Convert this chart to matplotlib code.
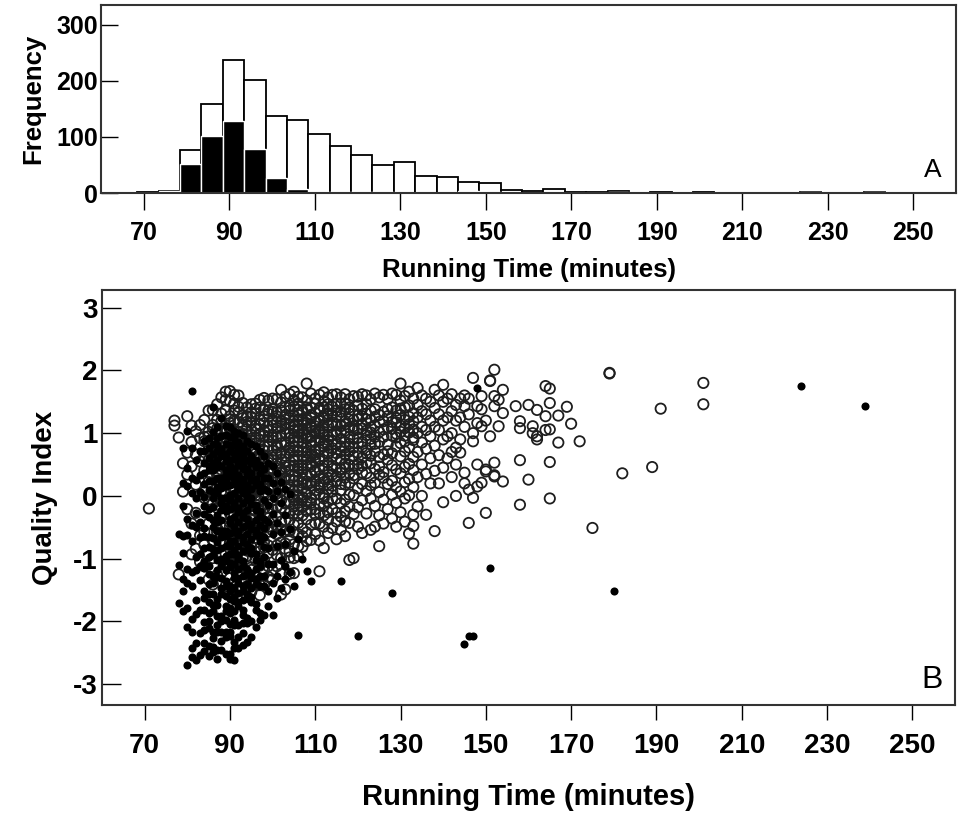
import numpy as np
import matplotlib
matplotlib.use("Agg")
import matplotlib.pyplot as plt

plt.rcParams['font.family'] = ['Liberation Sans', 'DejaVu Sans']
plt.rcParams['font.weight'] = 'bold'
plt.rcParams['axes.unicode_minus'] = False

# ---- panel A: histogram of running time, 5-minute bins (bin centres) ----
bin_centers = [71, 76, 81, 86, 91, 96, 101, 106, 111, 116, 121, 126, 131, 136, 141,
               146, 151, 156, 161, 166, 171, 176, 181, 186, 191, 196, 201, 226, 241]
all_counts = [1, 4, 76, 159, 237, 202, 138, 130, 106, 84, 67, 50, 55, 30, 28,
              19, 18, 6, 4, 8, 2, 1, 3, 0, 1, 0, 2, 1, 1]
sub_counts = [0, 3, 52, 102, 129, 79, 26, 8, 1, 1, 1, 1, 0, 0, 0,
              4, 1, 0, 0, 0, 0, 0, 1, 0, 0, 0, 0, 1, 1]

# ---- panel B: quality index vs running time ----
# open circles: one running time per entry, list of quality values at that time
open_rt = [71, 77, 78, 79, 80, 81, 82, 83, 84, 85, 86, 87, 88, 89, 90, 91, 92, 93,
           94, 95, 96, 97, 98, 99, 100, 101, 102, 103, 104, 105, 106, 107, 108, 109,
           110, 111, 112, 113, 114, 115, 116, 117, 118, 119, 120, 121, 122, 123, 124,
           125, 126, 127, 128, 129, 130, 131, 132, 133, 134, 135, 136, 137, 138, 139,
           140, 141, 142, 143, 144, 145, 146, 147, 148, 149, 150, 151, 152, 153, 154,
           157, 158, 160, 161, 162, 164, 165, 167, 169, 170, 172, 175, 179, 182, 189,
           191, 201]
open_q = [
    [-0.2],
    [1.12, 1.2],
    [0.93, -1.25],
    [0.52, 0.07],
    [1.27, 0.69, 0.34, -0.21],
    [1.12, 0.86, 0.47, -0.44, -0.93],
    [1.03, 0.66, 0.18, -0.27, -0.84],
    [0.92, 1.13, 0.55, 0.02, -0.63, -1.05],
    [1.21, 0.94, 0.87, 0.41, 0.06, -0.03, -0.57, -0.78, -1.12, 0.63],
    [1.36, 1.02, 0.81, 0.29, 0.22, -0.06, -0.44, -0.91, -1.33, 0.95, 0.57],
    [1.08, 1.37, 1.13, 0.62, 0.58, 0.04, -0.12, -0.27, -0.71, -0.99, -1.41, 0.43, 0.83],
    [1.46, 1.21, 0.97, 0.91, 0.33, 0.14, -0.19, -0.52, -0.58, -1.26, 0.39, 0.67, 1.07],
    [1.57, 1.31, 1.19, 0.88, 0.61, 0.42, 0.08, -0.09, -0.33, -0.62, -0.93, -1.22, 0.51,
     1.01, 0.71],
    [1.53, 1.66, 1.36, 1.08, 1.03, 0.79, 0.54, 0.47, 0.18, 0.03, -0.14, -0.44, -0.49,
     -0.93, -1.06, -1.44, 0.67, 0.31, 0.92],
    [1.67, 1.51, 1.27, 1.22, 1.06, 0.96, 0.77, 0.69, 0.56, 0.34, 0.29, 0.12, -0.04,
     -0.11, -0.28, -0.42, -0.68, -0.74, -0.97, -1.08, -1.31, -1.52, 1.16, 0.47, 0.21,
     -0.49, 0.87],
    [1.61, 1.47, 1.21, 1.18, 0.98, 0.83, 0.61, 0.57, 0.44, 0.23, 0.14, -0.02, -0.19,
     -0.31, -0.57, -0.68, -0.94, -1.07, -1.38, 0.79, 0.36, 0.07, 1.36],
    [1.6, 1.42, 1.33, 1.02, 0.94, 0.77, 0.64, 0.46, 0.39, 0.27, -0.03, -0.14, -0.22,
     -0.49, -0.63, -0.88, -1.04, -1.21, -1.47, 1.17, 0.52, 0.88],
    [1.48, 1.29, 1.24, 0.99, 0.91, 0.72, 0.51, 0.43, 0.22, 0.12, 0.03, -0.27, -0.33,
     -0.58, -0.74, -0.99, -1.14, -1.36, 0.83, 0.38, -0.42, 1.12],
    [1.41, 1.27, 1.18, 0.97, 0.86, 0.82, 0.56, 0.44, 0.31, 0.19, 0.16, -0.09, -0.18,
     -0.39, -0.51, -0.69, -0.87, -0.96, -1.23, -1.44, -1.61, 0.67, 0.24, 1.06],
    [1.46, 1.33, 1.26, 1.04, 0.97, 0.76, 0.71, 0.53, 0.46, 0.26, 0.11, 0.04, -0.16,
     -0.22, -0.37, -0.52, -0.58, -0.81, -0.89, -1.14, -1.18, -1.37, -1.53, 0.88, 0.37,
     -0.01, 1.16],
    [1.47, 1.39, 1.31, 1.12, 1.07, 0.84, 0.74, 0.67, 0.49, 0.41, 0.26, 0.09, 0.01,
     -0.14, -0.24, -0.44, -0.55, -0.74, -0.83, -1.02, -1.28, -1.36, 0.93, 0.59, -0.06],
    [1.53, 1.41, 1.21, 1.14, 0.99, 0.89, 0.66, 0.59, 0.43, 0.37, 0.18, 0.11, -0.09,
     -0.24, -0.31, -0.54, -0.63, -0.84, -0.97, -1.11, -1.42, -1.58, 0.81, 0.29],
    [1.56, 1.37, 1.16, 1.04, 0.96, 0.79, 0.72, 0.51, 0.44, 0.26, 0.19, 0.06, -0.14,
     -0.21, -0.42, -0.51, -0.73, -0.82, -1.02, -1.18, -1.42, 1.27, 0.61, 0.12],
    [1.52, 1.36, 1.31, 1.11, 1.04, 0.87, 0.79, 0.59, 0.53, 0.36, 0.28, 0.11, 0.02,
     -0.19, -0.28, -0.49, -0.57, -0.79, -0.91, -1.12, -1.29, 0.94, 0.41],
    [1.55, 1.38, 1.34, 1.12, 0.97, 0.93, 0.88, 0.61, 0.57, 0.44, 0.16, 0.12, 0.09,
     -0.07, -0.38, -0.41, -0.55, -0.86, -1.19, -1.33, 1.21, 0.72, 0.28, -0.22],
    [1.54, 1.33, 1.27, 1.08, 0.94, 0.81, 0.77, 0.52, 0.47, 0.31, 0.22, 0.04, -0.03,
     -0.16, -0.32, -0.47, -0.61, -0.79, -0.94, -1.12, 1.17, 0.66],
    [1.69, 1.49, 1.36, 1.19, 1.11, 0.96, 0.84, 0.69, 0.58, 0.42, 0.36, 0.17, 0.08,
     -0.07, -0.19, -0.41, -0.53, -0.74, -0.99, -1.24, -1.57, 0.27],
    [1.58, 1.41, 1.29, 1.16, 1.07, 0.86, 0.81, 0.64, 0.53, 0.39, 0.29, 0.14, 0.03,
     -0.12, -0.26, -0.39, -0.57, -0.76, -0.89, -1.49, 0.99, 0.46],
    [1.62, 1.44, 1.36, 1.24, 1.14, 0.99, 0.92, 0.73, 0.68, 0.49, 0.41, 0.26, 0.17,
     0.02, -0.09, -0.27, -0.38, -0.56, -0.69, -0.88, -0.98, -1.24, 0.77, 0.14],
    [1.66, 1.53, 1.42, 1.28, 1.19, 1.04, 0.93, 0.79, 0.71, 0.57, 0.48, 0.32, 0.24,
     0.08, -0.01, -0.17, -0.28, -0.46, -0.58, -0.77, -0.99, -1.23, 1.11, 0.62, -0.06, 0.86],
    [1.58, 1.47, 1.37, 1.21, 1.12, 0.94, 0.87, 0.73, 0.64, 0.48, 0.39, 0.24, 0.16,
     0.01, -0.11, -0.31, -0.43, -0.61, -0.8, -0.96, 1.03, 0.44, -0.22, 1.29],
    [1.57, 1.36, 1.33, 1.04, 0.99, 0.93, 0.71, 0.49, 0.44, 0.38, 0.12, -0.02, -0.06,
     -0.31, -0.52, -0.64, -0.81, 1.22, 0.63, 0.21, 0.84, -0.18, 1.13, 0.27],
    [1.79, 1.52, 1.41, 1.38, 1.07, 0.96, 0.91, 0.62, 0.58, 0.49, 0.23, 0.18, -0.08,
     -0.13, -0.37, -0.58, -0.72, 1.21, 0.77, 0.33, -0.24, 1.16, 0.04, 0.69],
    [1.63, 1.41, 1.29, 1.24, 0.94, 0.87, 0.81, 0.52, 0.47, 0.21, 0.16, -0.03, -0.22,
     -0.46, -0.7, 1.09, 0.64, 0.34, 1.12, -0.11, 0.71],
    [1.55, 1.47, 1.18, 1.11, 0.99, 0.73, 0.66, 0.41, 0.38, 0.09, 0.02, -0.21, -0.29,
     -0.61, 1.32, 0.86, 0.54, 0.24, -0.43, 1.04, 0.61],
    [1.61, 1.39, 1.36, 1.07, 0.92, 0.88, 0.59, 0.56, 0.31, 0.19, 0.13, -0.13, -0.27,
     -0.71, -1.2, 1.19, 0.74, 0.42, -0.44, 1.01, 0.03],
    [1.65, 1.51, 1.28, 1.24, 1.02, 0.84, 0.79, 0.48, 0.43, 0.22, 0.01, -0.04, -0.31,
     -0.49, -0.83, 1.41, 0.63, 0.28, 1.12, -0.16, 0.97],
    [1.57, 1.38, 1.31, 1.13, 0.89, 0.71, 0.67, 0.39, 0.29, 0.11, -0.09, -0.26, -0.59,
     1.21, 0.53, 0.94, 0.18, -0.38, 1.46, 0.81],
    [1.61, 1.42, 1.17, 1.12, 0.87, 0.76, 0.48, 0.43, 0.16, 0.07, -0.21, -0.51, 0.97,
     1.29, 0.62, -0.04, 0.34],
    [1.62, 1.47, 1.26, 1.03, 0.98, 0.68, 0.59, 0.31, 0.24, -0.04, -0.27, -0.69, 1.14,
     0.82, 0.44, -0.41, 1.36],
    [1.57, 1.34, 1.28, 1.01, 0.79, 0.71, 0.42, 0.37, 0.09, -0.12, -0.33, -0.54, 1.11,
     0.91, 0.58, 0.19, 1.46],
    [1.62, 1.38, 1.19, 1.14, 0.86, 0.77, 0.51, 0.46, 0.18, -0.06, -0.24, -0.64, 1.04,
     0.66, 0.29, -0.41, 1.47],
    [1.54, 1.31, 1.22, 0.94, 0.83, 0.58, 0.49, 0.21, 0.02, -0.17, -0.43, -1.02, 1.09,
     0.71, 0.36, 1.41],
    [1.59, 1.36, 1.11, 1.04, 0.77, 0.64, 0.33, 0.28, 0.01, -0.29, -0.99, 1.21, 0.91, 0.48],
    [1.58, 1.28, 1.22, 0.93, 0.84, 0.51, 0.43, 0.12, -0.18, -0.49, 1.06, 0.69, 1.44],
    [1.62, 1.39, 1.14, 1.07, 0.78, 0.61, 0.37, 0.19, -0.07, -0.59, 1.27, 0.86, 0.48],
    [1.6, 1.31, 1.22, 0.97, 0.73, 0.68, 0.36, 0.08, -0.28, 1.46, 1.04, 0.53],
    [1.54, 1.36, 1.09, 0.91, 0.82, 0.52, 0.29, -0.04, -0.54, 1.21, 0.64, 0.17, 1.01],
    [1.63, 1.38, 1.12, 0.94, 0.71, 0.43, 0.21, -0.16, -0.49, 1.26, 0.83],
    [1.57, 1.29, 1.18, 0.86, 0.62, 0.34, 0.06, -0.31, -0.8, 1.02, 0.47],
    [1.61, 1.34, 1.06, 0.94, 0.66, 0.38, 0.29, -0.06, -0.44, 1.19],
    [1.54, 1.27, 1.09, 0.82, 0.58, 0.19, -0.21, 1.38, 0.71],
    [1.63, 1.41, 1.18, 0.96, 0.68, 0.49, 0.24, -0.36, 1.07, 0.02],
    [1.61, 1.36, 1.17, 0.93, 0.79, 0.42, 0.14, -0.11, -0.49, 0.99, 1.24],
    [1.79, 1.52, 1.29, 1.12, 0.84, 0.63, 0.36, 0.07, -0.26, 1.02, 1.39],
    [1.59, 1.41, 1.21, 0.96, 0.71, 0.46, 0.22, -0.04, -0.41, 1.08, 0.87],
    [1.66, 1.44, 1.26, 1.01, 0.77, 0.51, 0.27, 0.01, -0.6, 1.14],
    [1.55, 1.32, 1.19, 0.89, 0.62, 0.41, -0.3, -0.48, -0.76, 1.06, 0.14, 0.93],
    [1.72, 1.45, 1.25, 1.0, 0.7, 0.3, -0.17],
    [1.6, 1.35, 1.1, 0.85, 0.5, 0.0],
    [1.55, 1.3, 1.05, 0.75, 0.35, -0.3],
    [1.5, 1.2, 0.95, 0.6, 0.2],
    [1.69, 1.4, 1.1, 0.8, -0.56, 0.4],
    [1.6, 1.3, 1.05, 0.65, 0.2],
    [1.77, 1.5, 1.2, 0.9, 0.45, -0.1],
    [1.55, 1.25, 0.95, 0.6],
    [1.62, 1.35, 1.0, 0.7, 0.3],
    [1.45, 1.2, 0.77, 0.5, 0.0],
    [1.55, 1.25, 0.9, 0.69],
    [1.43, 1.1, 0.37, 0.2, 1.6],
    [1.3, 0.1, -0.43, 1.55],
    [1.88, 1.0, 0.87, -0.03],
    [1.16, 1.43, 0.15, 0.5],
    [1.59, 1.38, 1.11, 0.21],
    [-0.27, 0.42, 1.2, 0.39],
    [1.84, 1.83, 0.95],
    [2.01, 1.59, 1.43, 0.53, 0.33, 0.31],
    [1.53, 1.11],
    [1.69, 1.32, 0.23],
    [1.43],
    [1.19, 1.08, 0.57, -0.14],
    [1.45, 0.26],
    [1.11, 1.0],
    [1.37, 0.95, 0.9],
    [1.75, 1.27, 1.05],
    [1.71, 1.48, 0.54, -0.04, 1.06],
    [1.28, 0.85],
    [1.42],
    [1.15],
    [0.87],
    [-0.51],
    [1.95, 1.96],
    [0.36],
    [0.46],
    [1.39],
    [1.8, 1.46],
]

# filled dots
filled_rt = [78, 79, 80, 81, 82, 83, 84, 85, 86, 87, 88, 89, 90, 91, 92, 93, 94, 95,
             96, 97, 98, 99, 100, 101, 102, 103, 104, 105, 106, 107, 108, 109, 116,
             120, 128, 145, 146, 147, 148, 151, 180, 224, 239]
filled_q = [
    [-0.6, -1.1, -1.7],
    [0.77, 0.21, -0.16, -0.64, -0.91, -1.33, -1.52, -1.84],
    [1.03, 0.44, 0.16, -0.36, -0.62, -1.17, -1.38, -1.79, -2.08, -2.69],
    [1.67, 0.76, 0.29, 0.04, -0.47, -0.72, -1.21, -1.43, -1.96, -2.17, -2.43, -2.56],
    [0.57, 0.26, -0.27, -0.49, -0.97, -1.18, -1.66, -1.88, -2.34, -2.62, -0.03],
    [0.71, 0.33, 0.06, -0.41, -0.66, -1.12, -1.34, -1.81, -2.18, -2.53, -0.93],
    [0.88, 0.52, 0.37, -0.02, -0.16, -0.51, -0.64, -1.03, -1.14, -1.52, -1.63, -2.01,
     -2.13, -2.47, -0.29, -0.83, -1.82, -2.34, 0.72, 0.19],
    [0.76, 0.61, 0.24, 0.09, -0.21, -0.33, -0.66, -0.81, -1.12, -1.24, -1.57, -1.69,
     -1.99, -2.11, -2.39, -2.55, 0.41, -0.97, -1.41, -1.87, 0.92, 0.48],
    [1.42, 0.83, 0.53, 0.41, 0.06, -0.04, -0.38, -0.49, -0.84, -0.94, -1.28, -1.39,
     -1.74, -1.83, -2.16, -2.27, -2.41, -0.17, -0.67, -1.57, -2.49, 1.02, 0.67, 0.24],
    [0.93, 0.58, 0.46, 0.14, 0.04, -0.31, -0.41, -0.74, -0.86, -1.18, -1.29, -1.64,
     -1.74, -2.06, -2.16, -2.46, -2.6, 0.71, -0.56, -1.02, -1.92, 1.09, 0.81, 0.29],
    [1.24, 0.74, 0.63, 0.29, 0.21, -0.12, -0.22, -0.56, -0.66, -1.01, -1.12, -1.46,
     -1.56, -1.91, -1.99, -2.31, -2.45, -0.03, -0.39, -0.83, -1.31, -2.16, 0.96, 0.47,
     0.12],
    [0.97, 0.67, 0.56, 0.24, 0.16, -0.16, -0.24, -0.56, -0.64, -0.96, -1.04, -1.36,
     -1.44, -1.76, -1.84, -2.16, -2.24, -2.52, 0.41, -0.04, -0.79, -1.18, -1.59, -1.98,
     1.12, 0.83, 0.34],
    [1.1, 0.81, 0.71, 0.41, 0.31, 0.01, -0.07, -0.36, -0.43, -0.72, -0.79, -1.07,
     -1.13, -1.44, -1.51, -1.79, -1.87, -2.16, -2.23, -2.51, 0.57, 0.17, -0.21, -0.59,
     -0.93, -1.64, -2.04, -2.6, 0.94, 0.47, -0.02],
    [0.93, 0.69, 0.59, 0.27, 0.19, -0.11, -0.18, -0.49, -0.57, -0.86, -0.93, -1.23,
     -1.31, -1.61, -1.68, -1.97, -2.06, -2.33, -2.42, -2.61, 0.43, 0.04, -0.34, -0.71,
     -1.08, -1.46, -1.83, 1.04, 0.81, 0.36],
    [0.86, 0.57, 0.49, 0.18, 0.11, -0.19, -0.26, -0.56, -0.63, -0.94, -1.01, -1.31,
     -1.38, -1.69, -1.76, -2.06, -2.42, 0.33, -0.04, -0.41, -0.79, -1.16, -1.54, -2.24,
     0.69, 1.01, 0.74, 0.28],
    [0.79, 0.52, 0.43, 0.12, 0.05, -0.27, -0.34, -0.66, -0.73, -1.04, -1.12, -1.43,
     -1.51, -1.82, -1.89, -2.19, -2.38, 0.27, -0.11, -0.49, -0.88, -1.27, -1.66, 0.62,
     -2.02, 0.97, 0.68, 0.21],
    [0.71, 0.43, 0.33, 0.02, -0.07, -0.37, -0.46, -0.77, -0.86, -1.16, -1.24, -1.56,
     -1.63, -1.94, -2.02, -2.32, 0.17, -0.22, -0.61, -1.41, 0.88, 0.57, 0.09],
    [0.64, 0.36, 0.26, -0.04, -0.13, -0.44, -0.52, -0.83, -0.91, -1.22, -1.31, -1.61,
     -1.69, -1.99, -2.24, 0.11, -0.68, -1.46, 0.83, 0.52],
    [0.58, 0.27, 0.17, -0.14, -0.23, -0.54, -0.62, -0.93, -1.02, -1.32, -1.41, -1.72,
     -1.81, -2.09, -0.38, -1.16, 0.79, 0.46],
    [0.49, 0.19, 0.08, -0.24, -0.32, -0.63, -0.72, -1.04, -1.12, -1.44, -1.86, -1.98,
     -0.47, -1.28, 0.71, 0.37],
    [0.43, 0.11, -0.06, -0.36, -0.51, -0.82, -0.97, -1.27, -1.43, -1.9, -0.66, 0.64, 0.28],
    [0.29, -0.14, -0.41, -0.83, -1.08, -1.52, -1.75, 0.52, 0.08],
    [0.21, -0.28, -0.61, -1.09, -1.38, -1.89, 0.47, -0.04],
    [0.08, -0.43, -0.79, -1.27, -1.63, 0.36],
    [-0.12, -0.57, -1.02, -1.46, 0.22],
    [-0.31, -0.77, -1.33, -1.12, 0.11],
    [-0.52, -1.21, 0.03],
    [-1.44, -0.88],
    [-2.22, -0.69],
    [-1.0],
    [-1.2],
    [-1.36],
    [-1.36],
    [-2.23],
    [-1.55],
    [-2.36],
    [-2.23],
    [-2.23],
    [1.72],
    [-1.15],
    [-1.51],
    [1.75],
    [1.44],
]

x_ticks = [70, 90, 110, 130, 150, 170, 190, 210, 230, 250]

assert len(open_rt) == len(open_q)
assert len(filled_rt) == len(filled_q)
open_x = np.repeat(open_rt, [len(v) for v in open_q])
open_y = np.concatenate([np.asarray(v, float) for v in open_q])
filled_x = np.repeat(filled_rt, [len(v) for v in filled_q])
filled_y = np.concatenate([np.asarray(v, float) for v in filled_q])

spine_col = '#333333'

fig = plt.figure(figsize=(9.62, 8.19), dpi=100)
axA = fig.add_axes([0.105, 0.7643, 0.8888, 0.2295])
axB = fig.add_axes([0.106, 0.1392, 0.8867, 0.5067])

# ---------------- panel A ----------------
axA.bar(bin_centers, all_counts, width=5, facecolor='white', edgecolor='black', linewidth=1.3)
axA.bar(bin_centers, sub_counts, width=5, facecolor='black', edgecolor='white', linewidth=1.0)
axA.set_xlim(60, 260)
axA.set_ylim(0, 335)
axA.set_xticks(x_ticks)
axA.set_yticks([0, 100, 200, 300])
axA.tick_params(axis='y', direction='in', length=12, width=1, pad=2, labelsize=18)
axA.tick_params(axis='x', direction='out', length=12, width=1, pad=8, labelsize=18)
axA.set_xlabel('Running Time (minutes)', fontsize=18.5, fontweight='bold')
axA.xaxis.set_label_coords(0.5, -0.41)
axA.xaxis.label.set_va('center')
axA.set_ylabel('Frequency', fontsize=18.5, fontweight='bold')
axA.yaxis.set_label_coords(-0.079, 0.5)
axA.yaxis.label.set_va('center')
axA.text(0.973, 0.12, 'A', transform=axA.transAxes, fontsize=19, fontweight='normal',
         ha='center', va='center')

# ---------------- panel B ----------------
axB.scatter(open_x, open_y, s=55, facecolors='none', edgecolors='#1e1e1e', linewidths=1.3, zorder=2)
axB.scatter(filled_x, filled_y, s=34, c='black', linewidths=0, zorder=3)
axB.set_xlim(60, 260)
axB.set_ylim(-3.33, 3.28)
axB.set_xticks(x_ticks)
axB.set_yticks([-3, -2, -1, 0, 1, 2, 3])
axB.tick_params(axis='y', direction='in', length=14, width=1, pad=3, labelsize=20)
axB.tick_params(axis='x', direction='out', length=11, width=1, pad=9, labelsize=20)
axB.set_xlabel('Running Time (minutes)', fontsize=21, fontweight='bold')
axB.xaxis.set_label_coords(0.5, -0.222)
axB.xaxis.label.set_va('center')
axB.set_ylabel('Quality Index', fontsize=20, fontweight='bold')
axB.yaxis.set_label_coords(-0.067, 0.5)
axB.yaxis.label.set_va('center')
axB.text(0.973, 0.06, 'B', transform=axB.transAxes, fontsize=23, fontweight='normal',
         ha='center', va='center')

for ax in (axA, axB):
    for sp in ax.spines.values():
        sp.set_color(spine_col)
        sp.set_linewidth(1.5)

fig.savefig('out.png', dpi=100, facecolor='white')
